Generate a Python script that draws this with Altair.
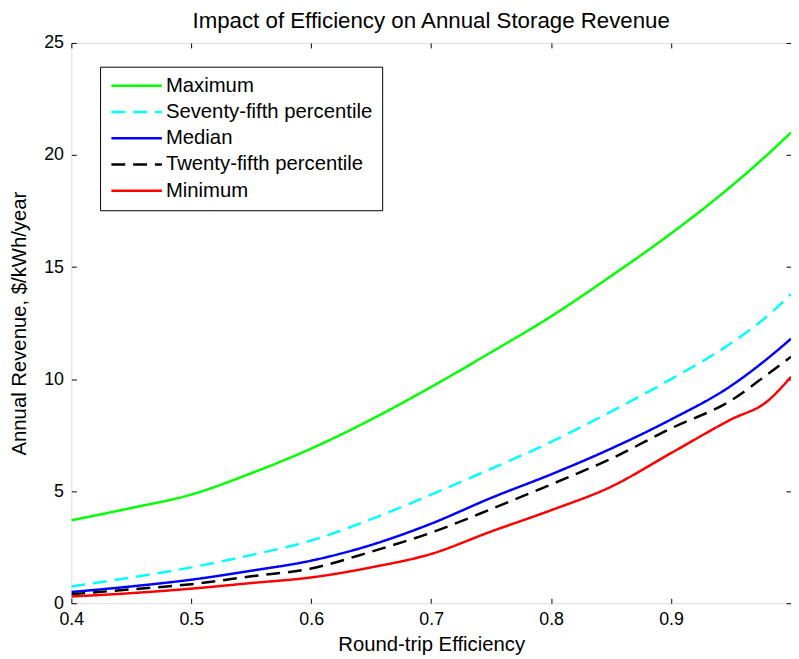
import altair as alt
import pandas as pd

efficiency = [0.40, 0.45, 0.50, 0.55, 0.60, 0.65, 0.70, 0.75, 0.80, 0.85, 0.90, 0.95, 0.98, 1.00]
maximum = [3.7, 4.25, 4.85, 5.8, 6.9, 8.2, 9.65, 11.2, 12.8, 14.6, 16.5, 18.6, 20.0, 21.0]
p75 = [0.75, 1.15, 1.6, 2.15, 2.8, 3.75, 4.85, 6.0, 7.2, 8.55, 10.0, 11.6, 12.8, 13.8]
median = [0.5, 0.75, 1.05, 1.45, 1.9, 2.6, 3.55, 4.7, 5.75, 6.9, 8.2, 9.7, 10.9, 11.8]
p25 = [0.4, 0.62, 0.85, 1.2, 1.55, 2.3, 3.15, 4.2, 5.3, 6.45, 7.8, 9.05, 10.2, 11.0]
minimum = [0.3, 0.45, 0.65, 0.9, 1.15, 1.6, 2.2, 3.2, 4.15, 5.2, 6.7, 8.2, 9.0, 10.1]

series_names = ["Maximum", "Seventy-fifth percentile", "Median", "Twenty-fifth percentile", "Minimum"]
series_colors = ["#00ff00", "#00ffff", "#0000ff", "#000000", "#ff0000"]
series_dash = [[1, 0], [14, 8], [1, 0], [14, 8], [1, 0]]
series_values = [maximum, p75, median, p25, minimum]

x_ticks = [0.4, 0.5, 0.6, 0.7, 0.8, 0.9]
y_ticks = [0, 5, 10, 15, 20, 25]

rows = []
for name, vals in zip(series_names, series_values):
    for e, v in zip(efficiency, vals):
        rows.append({"eff": e, "rev": v, "series": name})
df = pd.DataFrame(rows)

FONT = "Liberation Sans"

x_scale = alt.Scale(domain=[0.4, 1.0], nice=False, zero=False)
y_scale = alt.Scale(domain=[0, 25], nice=False)

legend = alt.Legend(
    title=None, orient="none", legendX=29, legendY=24,
    symbolType="M-1.2,0H6.65", symbolSize=169, symbolStrokeWidth=2.5,
    labelFont=FONT, labelFontSize=20.5, labelColor="black", labelOffset=37,
    strokeColor="black", fillColor="white", padding=9, rowPadding=5.5,
    labelLimit=400,
)

lines = alt.Chart(df).mark_line(strokeWidth=2.5, clip=True, interpolate="monotone").encode(
    x=alt.X("eff:Q", scale=x_scale, axis=alt.Axis(
        orient="bottom", values=x_ticks, format=".1f", tickSize=0, domain=False, grid=False,
        labelFlush=False, labelPadding=7, labelFontSize=18, labelFont=FONT, labelColor="black",
        title="Round-trip Efficiency", titleFont=FONT, titleFontSize=20.5,
        titleFontWeight="normal", titleColor="black", titlePadding=7)),
    y=alt.Y("rev:Q", scale=y_scale, axis=alt.Axis(
        orient="left", values=y_ticks, tickSize=0, domain=False, grid=False,
        labelFlush=False, labelPadding=8, labelFontSize=18, labelFont=FONT, labelColor="black",
        title="Annual Revenue, $/kWh/year", titleFont=FONT, titleFontSize=20.5,
        titleFontWeight="normal", titleColor="black", titlePadding=14)),
    color=alt.Color("series:N", sort=series_names,
                    scale=alt.Scale(domain=series_names, range=series_colors), legend=legend),
    strokeDash=alt.StrokeDash("series:N", sort=series_names,
                              scale=alt.Scale(domain=series_names, range=series_dash), legend=legend),
    detail="series:N",
)

tick_axis = dict(labels=False, title=None, domain=False, grid=False, ticks=True,
                 tickSize=5, offset=-5, tickColor="black", tickWidth=1)

ticks_bl = alt.Chart(df).mark_line(strokeOpacity=0).encode(
    x=alt.X("eff:Q", scale=x_scale, axis=alt.Axis(orient="bottom", values=x_ticks, **tick_axis)),
    y=alt.Y("rev:Q", scale=y_scale, axis=alt.Axis(orient="left", values=y_ticks, **tick_axis)),
    detail="series:N",
)

ticks_tr = alt.Chart(df).mark_line(strokeOpacity=0).encode(
    x=alt.X("eff:Q", scale=x_scale, axis=alt.Axis(orient="top", values=x_ticks, **tick_axis)),
    y=alt.Y("rev:Q", scale=y_scale, axis=alt.Axis(orient="right", values=y_ticks, **tick_axis)),
    detail="series:N",
)

chart = alt.layer(lines, ticks_bl, ticks_tr).resolve_axis(
    x="independent", y="independent"
).properties(
    width=727, height=566,
    autosize=alt.AutoSizeParams(type="none"),
    padding={"left": 64, "top": 32, "right": 0, "bottom": 49},
    title=alt.TitleParams("Impact of Efficiency on Annual Storage Revenue", font=FONT,
                          fontSize=22.5, fontWeight="normal", color="black",
                          anchor="middle", offset=2),
).configure_view(stroke="black", strokeWidth=1.2).configure(background="white")

chart.save("out.html", embed_options={"renderer": "svg", "actions": False})
